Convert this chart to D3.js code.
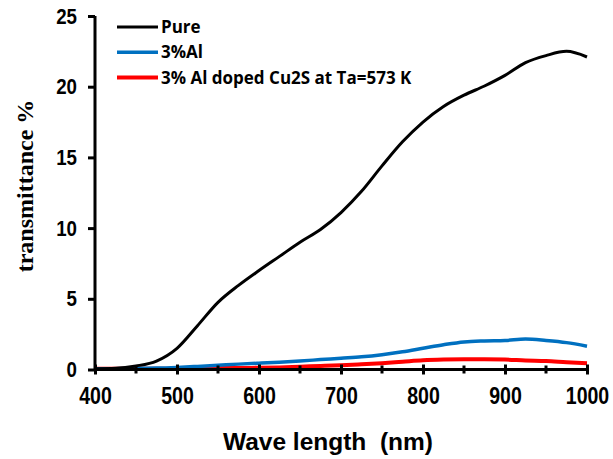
<!DOCTYPE html>
<html><head><meta charset="utf-8">
<script src="https://cdn.jsdelivr.net/npm/d3@7"></script>
<style>body{margin:0;background:#fff}</style>
</head><body><svg id="c" width="613" height="459"></svg>
<script>
const wavelengths = [400,425,450,475,500,525,550,575,600,625,650,675,700,725,750,775,800,825,850,875,900,925,950,975,1000];
const pure =        [0.05,0.08,0.25,0.6,1.5,3.1,4.75,5.95,7.0,8.0,9.0,9.9,11.1,12.6,14.4,16.1,17.5,18.6,19.4,20.05,20.8,21.7,22.2,22.5,22.1];
const al3 =         [0.05,0.06,0.08,0.1,0.15,0.22,0.3,0.38,0.45,0.52,0.6,0.7,0.8,0.9,1.05,1.25,1.5,1.75,1.95,2.02,2.05,2.15,2.05,1.9,1.65];
const alAnnealed =  [0.05,0.05,0.05,0.05,0.05,0.08,0.1,0.11,0.12,0.15,0.2,0.25,0.3,0.37,0.45,0.55,0.65,0.7,0.72,0.72,0.7,0.64,0.6,0.52,0.45];
const seriesNames = ["Pure","3%Al","3% Al doped Cu2S at Ta=573 K"];
const seriesColors = ["#000000","#0070C0","#FF0000"];
const xTicks = [400,500,600,700,800,900,1000];
const xMinor = [450,550,650,750,850,950];
const yTicks = [0,5,10,15,20,25];

const svg = d3.select("#c");
const x = d3.scaleLinear().domain([400,1000]).range([95,587]);
const y = d3.scaleLinear().domain([0,25]).range([369.5,16]);

const tickFont = "'Liberation Sans',Arial,sans-serif";
const sx = 0.85;

// lines
const series = [pure, al3, alAnnealed];
const widths = [3,3.5,4];
const line = d3.line().x(d=>x(d[0])).y(d=>y(d[1])).curve(d3.curveMonotoneX);
[2,1,0].forEach(i=>{
  svg.append("path").datum(wavelengths.map((w,j)=>[w,series[i][j]]))
    .attr("d",line).attr("fill","none").attr("stroke",seriesColors[i])
    .attr("stroke-width",widths[i]).attr("stroke-linejoin","round");
});

// x axis
const xa = svg.append("g").attr("transform",`translate(0,${y(0)})`)
  .call(d3.axisBottom(x).tickValues(xTicks).tickSize(5).tickFormat(d3.format("d")));
xa.select(".domain").attr("stroke","#000").attr("stroke-width",3).attr("d",`M${x(400)},0H${x(1000)}`);
xa.selectAll(".tick line").attr("y1",-5).attr("y2",5).attr("stroke-width",3);
xa.selectAll("text").attr("font-family",tickFont).attr("font-weight","bold").attr("font-size",23).attr("fill","#000")
  .attr("dy",0).attr("y",35).attr("transform",`scale(${sx},1)`);
svg.append("g").selectAll("line").data(xMinor).join("line")
  .attr("x1",d=>x(d)).attr("x2",d=>x(d)).attr("y1",y(0)-4).attr("y2",y(0)+4)
  .attr("stroke","#000").attr("stroke-width",3);

// y axis
const ya = svg.append("g").attr("transform",`translate(${x(400)},0)`)
  .call(d3.axisLeft(y).tickValues(yTicks).tickSize(7));
ya.select(".domain").attr("stroke","#000").attr("stroke-width",3).attr("d",`M0,${y(25)}V${y(0)}`);
ya.selectAll(".tick line").attr("stroke-width",3);
ya.selectAll("text").attr("font-family",tickFont).attr("font-weight","bold").attr("font-size",22).attr("fill","#000")
  .attr("x",-18/sx).attr("transform",`scale(${sx},1)`);

// axis titles
svg.append("text").attr("x",328).attr("y",450).attr("text-anchor","middle")
  .attr("font-family","'Liberation Sans',Arial,sans-serif").attr("font-weight","bold").attr("font-size",24.5)
  .attr("xml:space","preserve").style("white-space","pre").text("Wave length  (nm)");
svg.append("text").attr("transform","translate(33,186) rotate(-90)").attr("text-anchor","middle")
  .attr("font-family","'Liberation Serif','Times New Roman',serif").attr("font-weight","bold").attr("font-size",24)
  .text("transmittance %");

// legend
const leg = svg.append("g");
seriesNames.forEach((n,i)=>{
  const ly = 27 + i*25.3;
  leg.append("line").attr("x1",117).attr("x2",158).attr("y1",ly).attr("y2",ly)
    .attr("stroke",seriesColors[i]).attr("stroke-width",widths[i]);
  leg.append("text").attr("x",161).attr("y",ly+6).attr("font-family","'Open Sans','Liberation Sans',Arial,sans-serif")
    .attr("font-weight","bold").attr("font-size",17).text(n);
});
</script></body></html>
